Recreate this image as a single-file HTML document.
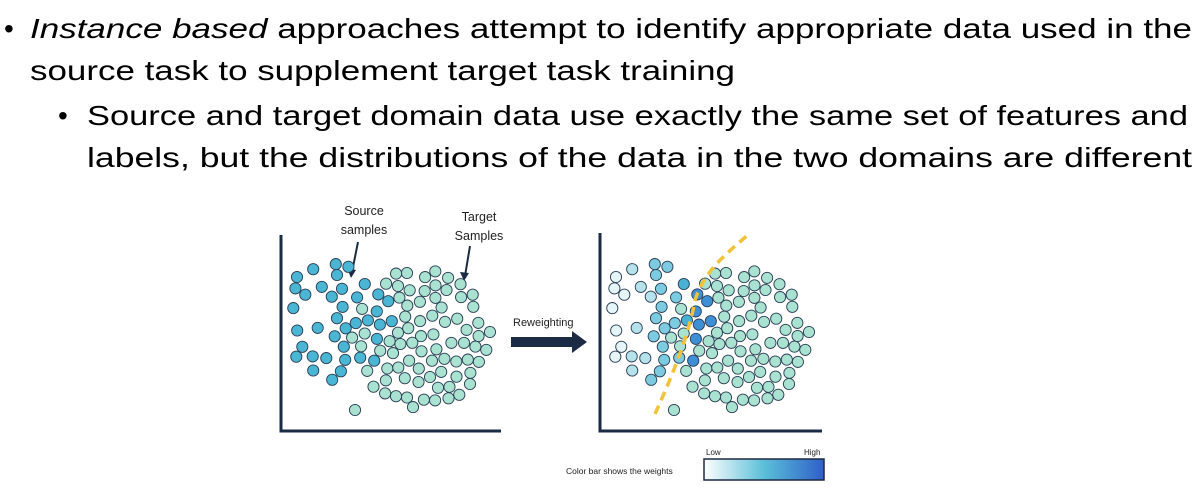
<!DOCTYPE html>
<html><head><meta charset="utf-8"><style>
html,body{margin:0;padding:0;background:#fff;}
svg{display:block;font-family:"Liberation Sans",sans-serif;}
</style></head><body>
<svg id="s" width="1202" height="502" viewBox="0 0 1202 502" xmlns="http://www.w3.org/2000/svg">
<g font-size="28" fill="#000">
<text x="4" y="38">•</text>
<text x="30" y="38" textLength="1162" lengthAdjust="spacingAndGlyphs"><tspan font-style="italic">Instance based</tspan> approaches attempt to identify appropriate data used in the</text>
<text x="30" y="80" textLength="705" lengthAdjust="spacingAndGlyphs">source task to supplement target task training</text>
<text x="58" y="125">•</text>
<text x="87" y="125" textLength="1101" lengthAdjust="spacingAndGlyphs">Source and target domain data use exactly the same set of features and</text>
<text x="87" y="167" textLength="1105" lengthAdjust="spacingAndGlyphs">labels, but the distributions of the data in the two domains are different</text>
</g>
<g font-size="12.5" fill="#222" text-anchor="middle">
<text x="364" y="215">Source</text><text x="364" y="234">samples</text>
<text x="479" y="221">Target</text><text x="479" y="240">Samples</text>
</g>
<g stroke="#1c2b44" stroke-width="2" fill="#1c2b44">
<line x1="358" y1="242" x2="352" y2="272"/><polygon points="347,268 356,270 351,278" stroke="none"/>
<line x1="470" y1="246" x2="465" y2="276"/><polygon points="460,272 469,273 464,281" stroke="none"/>
</g>
<g stroke="#1c2b44" stroke-width="3" fill="none">
<polyline points="281,235 281,431 501,431"/>
<polyline points="600,233 600,431 822,431"/>
</g>
<text x="513" y="326" font-size="11" fill="#222">Reweighting</text>
<rect x="511" y="337" width="63" height="10" fill="#1c2b44"/>
<polygon points="572,331 587,342 572,353" fill="#1c2b44"/>
<g id="left"></g><g id="right"></g>
<path d="M655,414 C675,370 690,330 695,300 C705,270 725,255 750,233" stroke="#f2c23a" stroke-width="3.5" fill="none" stroke-dasharray="9,6"/>
<defs><linearGradient id="g" x1="0" x2="1"><stop offset="0" stop-color="#fff"/><stop offset="0.5" stop-color="#5bbfd8"/><stop offset="1" stop-color="#2f5fc9"/></linearGradient></defs>
<rect x="704" y="459" width="120" height="21" fill="url(#g)" stroke="#1c2b44" stroke-width="1.5"/>
<text x="706" y="455" font-size="8" fill="#222">Low</text>
<text x="804" y="455" font-size="8" fill="#222">High</text>
<text x="566" y="474" font-size="8.5" fill="#222">Color bar shows the weights</text>
</svg>
<script>
var seed=11;function r(){seed=(seed*16807)%2147483647;return (seed-1)/2147483646;}
var pts=[];
function ok(x,y){for(var k=0;k<pts.length;k++){var dx=pts[k][0]-x,dy=pts[k][1]-y;if(dx*dx+dy*dy<120)return false;}return true;}
function add(cx,cy,rx,ry,n,t){var c=0,tries=0;while(c<n&&tries<20000){tries++;var a=r()*2-1,b=r()*2-1;if(a*a+b*b>1)continue;var x=cx+a*rx,y=cy+b*ry;if(x<292||x>490||y<264||y>410)continue;if(!ok(x,y))continue;pts.push([x,y,t]);c++;}}
pts.push([355,410,'t']);pts.push([337,275,'s']);pts.push([297,277,'s']);pts.push([490,332,'t']);
add(335,322,58,58,36,'s');
add(420,338,68,70,76,'t');
var L=document.getElementById('left'),R=document.getElementById('right'),ns='http://www.w3.org/2000/svg';
function c(g,x,y,f){var e=document.createElementNS(ns,'circle');e.setAttribute('cx',x.toFixed(1));e.setAttribute('cy',y.toFixed(1));e.setAttribute('r',5.6);e.setAttribute('fill',f);e.setAttribute('stroke','#2a3f55');e.setAttribute('stroke-width','0.9');g.appendChild(e);}
pts.forEach(function(p){
 c(L,p[0],p[1],p[2]=='s'?'#4ab6d3':'#a9e2d0');
 var f;
 if(p[2]=='t')f='#a9e2d0';
 else{var d=p[0]-292;f=d<15?'#e6f5f8':d<40?'#b6e2ec':d<70?'#7ccbe0':'#4ab0d6';}
 if(p[2]=='s'&&p[0]>372)f='#3f8fd6';
 c(R,p[0]+319,p[1],f);
});
</script>
</body></html>
